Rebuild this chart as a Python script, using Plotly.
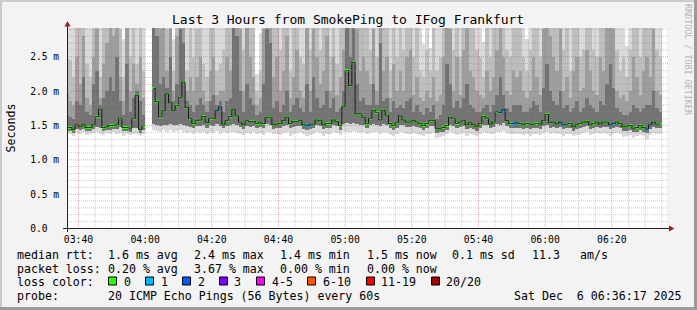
import plotly.graph_objects as go
import pandas as pd

# ---------------- data ----------------
START = "2025-12-06 03:36:00"   # first 60 s step
STEP_S = 60

# median rtt per step (ms); None = no data
median = [
1.47,1.47,1.44,1.51,1.48,1.51,1.47,1.47,1.51,1.63,
1.74,1.47,1.48,1.50,1.50,1.51,1.60,1.47,1.47,1.46,
1.60,1.94,1.44,1.48,None,None,2.04,1.85,1.63,1.72,
1.96,1.83,1.72,1.79,1.91,2.13,1.76,1.60,1.53,1.57,
1.58,1.63,1.54,1.60,1.60,1.72,1.77,1.52,1.57,1.63,
1.73,1.64,1.55,1.51,1.57,1.56,1.56,1.53,1.55,1.53,
1.62,1.62,1.51,1.52,1.53,1.57,1.62,1.53,1.56,1.56,
1.57,1.51,1.50,1.51,1.52,1.58,1.57,1.51,1.53,1.53,
1.58,1.56,1.50,1.78,2.30,2.08,2.42,1.67,1.67,1.62,
1.53,1.60,1.72,1.69,1.58,1.72,1.65,1.53,1.50,1.54,
1.64,1.58,1.55,1.55,1.57,1.55,1.53,1.50,1.53,1.57,
1.57,1.45,1.46,1.47,1.50,1.62,1.60,1.53,1.55,1.57,
1.51,1.54,1.51,1.48,1.53,1.63,1.60,1.52,1.55,1.70,
1.69,1.73,1.57,1.53,1.53,1.54,1.53,1.51,1.53,1.52,
1.52,1.53,1.52,1.57,1.66,1.54,1.55,1.52,1.55,1.51,
1.52,1.53,1.48,1.51,1.53,1.55,1.56,1.51,1.53,1.55,
1.52,1.55,1.55,1.51,1.53,1.55,1.53,1.48,1.48,1.50,
1.46,1.47,1.50,1.47,1.45,1.51,1.55,1.52,1.52,
]

# lost pings per step (of 20)
loss = [
0,0,0,0,0,0,0,0,0,0, 0,0,0,0,0,0,0,0,0,0,
0,0,0,0,None,None,0,0,0,0, 0,0,0,0,0,0,0,0,0,0,
0,0,0,0,0,1,1,0,0,0, 0,0,0,0,0,0,0,0,0,0,
0,0,0,0,0,0,0,0,0,0, 0,0,1,1,0,0,0,0,0,0,
0,0,0,0,0,0,0,0,0,0, 0,0,0,0,0,0,0,0,0,0,
0,0,0,0,0,0,0,0,0,0, 0,0,0,0,0,0,0,0,0,0,
0,0,0,0,0,0,0,0,0,0, 1,1,0,0,1,1,0,0,0,0,
0,0,0,0,0,0,0,0,1,1, 0,0,0,0,0,0,0,0,0,0,
0,0,0,1,1,0,0,0,0,0, 0,0,0,0,1,1,0,0,0,
]

# smoke: ping-rtt distribution per step (ms)
lo0 = [  # fastest ping
1.37,1.38,1.35,1.39,1.37,1.40,1.36,1.38,1.39,1.40,
1.37,1.36,1.39,1.38,1.40,1.37,1.39,1.34,1.37,1.36,
1.38,1.37,1.34,1.38,None,None,1.44,1.42,1.40,1.43,
1.41,1.44,1.40,1.42,1.43,1.41,1.39,1.40,1.38,1.40,
1.39,1.41,1.37,1.40,1.39,1.42,1.38,1.40,1.39,1.41,
1.40,1.39,1.37,1.36,1.39,1.38,1.40,1.37,1.39,1.36,
1.41,1.40,1.37,1.38,1.36,1.39,1.40,1.35,1.38,1.39,
1.40,1.37,1.34,1.36,1.38,1.40,1.39,1.35,1.37,1.38,
1.40,1.39,1.36,1.42,1.41,1.40,1.42,1.41,1.39,1.40,
1.37,1.39,1.41,1.40,1.38,1.40,1.39,1.36,1.34,1.37,
1.40,1.39,1.37,1.38,1.39,1.37,1.36,1.34,1.37,1.38,
1.39,1.32,1.33,1.35,1.37,1.40,1.39,1.36,1.38,1.39,
1.35,1.37,1.36,1.34,1.37,1.40,1.39,1.37,1.38,1.41,
1.40,1.42,1.39,1.37,1.38,1.37,1.38,1.36,1.37,1.35,
1.37,1.38,1.36,1.39,1.41,1.38,1.39,1.37,1.38,1.35,
1.37,1.38,1.34,1.36,1.37,1.39,1.40,1.36,1.37,1.39,
1.37,1.39,1.38,1.35,1.37,1.39,1.37,1.33,1.34,1.36,
1.32,1.34,1.36,1.34,1.31,1.36,1.39,1.37,1.38,
]
lo25 = [  # lower quartile ping
1.42,1.42,1.39,1.45,1.43,1.45,1.42,1.42,1.45,1.48,
1.47,1.42,1.43,1.44,1.45,1.45,1.48,1.42,1.42,1.41,
1.47,1.46,1.39,1.43,None,None,1.52,1.50,1.49,1.51,
1.50,1.52,1.50,1.51,1.52,1.50,1.49,1.48,1.46,1.49,
1.49,1.51,1.47,1.50,1.49,1.52,1.49,1.46,1.49,1.51,
1.52,1.50,1.48,1.45,1.49,1.48,1.49,1.46,1.48,1.46,
1.52,1.51,1.45,1.46,1.46,1.49,1.51,1.46,1.48,1.49,
1.49,1.45,1.44,1.45,1.46,1.50,1.49,1.45,1.46,1.47,
1.50,1.49,1.44,1.52,1.53,1.52,1.54,1.52,1.51,1.50,
1.47,1.50,1.52,1.51,1.49,1.52,1.50,1.47,1.44,1.47,
1.51,1.50,1.48,1.48,1.49,1.48,1.46,1.44,1.46,1.49,
1.49,1.39,1.40,1.41,1.44,1.50,1.49,1.46,1.48,1.49,
1.45,1.47,1.45,1.42,1.46,1.51,1.50,1.46,1.48,1.52,
1.51,1.53,1.49,1.46,1.47,1.47,1.46,1.45,1.46,1.45,
1.46,1.46,1.45,1.49,1.51,1.47,1.48,1.46,1.48,1.45,
1.46,1.46,1.42,1.45,1.46,1.48,1.49,1.45,1.46,1.48,
1.46,1.48,1.48,1.45,1.46,1.48,1.46,1.42,1.42,1.44,
1.40,1.41,1.44,1.41,1.39,1.45,1.48,1.46,1.46,
]
hi60 = [
1.65,1.62,1.60,1.85,1.80,2.20,1.70,1.65,2.10,2.30,
1.80,1.90,2.00,2.20,2.00,2.50,1.85,1.65,2.40,1.70,
1.90,2.00,1.85,1.65,None,None,3.00,2.80,2.10,2.20,
2.05,2.50,1.85,2.10,2.90,2.70,1.85,1.80,1.70,1.80,
1.90,1.80,1.70,1.85,1.95,1.80,1.85,1.70,1.85,1.90,
3.00,2.80,2.00,1.70,2.10,1.90,1.80,1.65,1.70,2.10,
2.90,2.70,1.75,1.85,1.70,1.80,2.00,1.70,1.80,1.90,
1.75,1.70,2.10,1.70,2.20,1.90,1.75,1.80,2.00,1.75,
1.90,1.70,1.75,2.00,3.00,2.50,3.00,2.10,1.85,1.90,
1.80,1.80,2.10,1.80,2.70,1.85,1.90,1.70,1.85,1.75,
1.80,1.75,1.85,1.90,1.70,1.80,1.70,1.65,1.75,1.70,
1.80,1.60,1.65,1.80,2.40,2.10,1.75,1.85,1.75,1.90,
2.10,1.80,1.75,1.70,1.70,1.75,1.80,1.70,1.80,1.95,
2.20,1.95,1.75,1.70,1.80,1.80,1.80,1.70,1.70,1.75,
1.85,1.80,1.70,2.05,2.40,2.00,1.85,1.80,2.00,1.75,
1.80,1.70,1.75,1.85,1.70,1.75,1.90,1.80,1.75,1.70,
1.85,1.80,2.10,2.40,2.05,1.75,1.70,1.65,1.65,1.70,
1.80,1.75,1.70,1.75,1.80,1.80,2.00,1.75,1.70,
]
hi75 = [
1.98,1.85,1.80,2.50,2.10,2.80,1.90,1.80,2.50,2.90,
1.90,2.40,2.70,3.00,2.80,3.00,2.20,1.85,3.00,2.00,
2.40,2.10,2.50,1.90,None,None,3.00,3.00,2.90,3.00,
2.30,3.00,2.00,2.80,3.00,3.00,2.00,2.20,2.00,2.20,
2.50,2.00,1.85,2.30,2.50,1.95,2.00,2.00,2.50,2.30,
3.00,3.00,2.90,2.00,3.00,2.50,2.20,1.80,1.90,2.90,
3.00,3.00,2.20,2.50,2.00,2.30,2.80,1.90,2.20,2.60,
2.00,1.90,3.00,2.00,2.90,2.50,2.10,2.30,2.80,2.00,
2.50,1.95,2.20,2.60,3.00,3.00,3.00,2.90,2.30,2.50,
2.30,2.10,2.90,2.00,3.00,2.30,2.50,1.90,2.40,2.00,
2.30,2.00,2.50,2.60,1.95,2.20,1.90,1.85,2.00,1.90,
2.20,1.85,1.95,2.50,3.00,2.90,2.00,2.50,1.95,2.60,
3.00,2.30,2.20,2.00,1.95,1.90,2.30,2.00,2.20,2.60,
3.00,2.50,2.00,1.95,2.30,2.20,2.30,2.00,1.90,2.00,
2.50,2.20,1.95,2.90,3.00,2.80,2.50,2.30,2.90,2.00,
2.20,1.90,2.30,2.50,2.00,2.05,2.60,2.30,2.00,1.95,
2.50,2.30,3.00,3.00,2.90,2.00,1.90,1.95,1.85,2.00,
2.50,2.20,1.95,2.30,2.50,2.20,2.90,2.00,1.95,
]
hi90 = [
2.47,2.45,2.20,3.00,3.00,3.00,2.40,2.20,3.00,3.00,
2.20,3.00,3.00,3.00,3.00,3.00,2.90,2.20,3.00,2.50,
3.00,2.40,3.00,2.30,None,None,3.00,3.00,3.00,3.00,
2.90,3.00,2.30,3.00,3.00,3.00,2.30,3.00,2.50,2.90,
3.00,2.40,2.20,3.00,3.00,2.30,2.40,2.60,3.00,3.00,
3.00,3.00,3.00,2.60,3.00,3.00,3.00,2.00,2.30,3.00,
3.00,3.00,3.00,3.00,2.60,3.00,3.00,2.30,3.00,3.00,
2.50,2.40,3.00,2.60,3.00,3.00,2.60,3.00,3.00,2.50,
3.00,2.40,3.00,3.00,3.00,3.00,3.00,3.00,3.00,3.00,
3.00,2.60,3.00,2.50,3.00,3.00,3.00,2.30,3.00,2.50,
3.00,2.60,3.00,3.00,2.50,3.00,2.30,2.20,2.60,2.30,
3.00,2.30,2.50,3.00,3.00,3.00,2.60,3.00,2.50,3.00,
3.00,3.00,3.00,2.60,2.50,2.20,3.00,2.50,3.00,3.00,
3.00,3.00,2.60,2.50,3.00,3.00,3.00,2.50,2.30,2.60,
3.00,3.00,2.50,3.00,3.00,3.00,3.00,3.00,3.00,2.60,
3.00,2.30,3.00,3.00,2.50,2.60,3.00,3.00,2.60,2.50,
3.00,3.00,3.00,3.00,3.00,2.60,2.30,2.50,2.20,2.60,
3.00,3.00,2.50,3.00,3.00,3.00,3.00,2.60,2.50,
]
hi100 = [  # slowest ping
3.00,3.00,3.00,3.00,3.00,3.00,3.00,3.00,3.00,3.00,
3.00,3.00,3.00,3.00,3.00,3.00,3.00,2.76,3.00,3.00,
3.00,3.00,3.00,3.00,None,None,3.00,3.00,3.00,3.00,
3.00,3.00,2.76,3.00,3.00,3.00,3.00,3.00,3.00,3.00,
3.00,3.00,3.00,3.00,3.00,3.00,3.00,3.00,3.00,3.00,
3.00,3.00,3.00,3.00,3.00,3.00,3.00,2.25,2.85,3.00,
3.00,3.00,3.00,3.00,3.00,3.00,3.00,3.00,3.00,3.00,
3.00,3.00,3.00,3.00,3.00,3.00,3.00,3.00,3.00,3.00,
3.00,3.00,3.00,3.00,3.00,3.00,3.00,3.00,3.00,3.00,
3.00,3.00,3.00,3.00,3.00,3.00,3.00,3.00,3.00,3.00,
3.00,3.00,3.00,3.00,3.00,3.00,3.00,2.68,3.00,2.63,
3.00,3.00,3.00,3.00,3.00,3.00,3.00,3.00,3.00,3.00,
3.00,3.00,3.00,3.00,3.00,2.71,3.00,3.00,3.00,3.00,
3.00,3.00,3.00,3.00,3.00,3.00,3.00,3.00,2.76,3.00,
3.00,3.00,3.00,3.00,3.00,3.00,3.00,3.00,3.00,3.00,
3.00,3.00,3.00,3.00,3.00,3.00,3.00,3.00,3.00,3.00,
3.00,3.00,3.00,3.00,3.00,3.00,3.00,3.00,2.66,3.00,
3.00,3.00,3.00,3.00,3.00,3.00,3.00,3.00,3.00,
]

y_tick_vals = [0.0, 0.5, 1.0, 1.5, 2.0, 2.5]
y_tick_text = ["0.0\u00a0\u00a0", "0.5 m", "1.0 m", "1.5 m", "2.0 m", "2.5 m"]

loss_legend = ["0", "1", "2", "3", "4-5", "6-10", "11-19", "20/20"]
loss_colors = ["#26ff00", "#00b8ff", "#0059ff", "#7e00ff", "#ff00ff",
               "#ff5500", "#ff0000", "#a10000"]

stats_rtt = ["1.6 ms avg", "2.4 ms max", "1.4 ms min", "1.5 ms now", "0.1 ms sd", "11.3", "am/s"]
stats_loss = ["0.20 % avg", "3.67 % max", "0.00 % min", "0.00 % now"]
probe_text = "20 ICMP Echo Pings (56 Bytes) every 60s"
date_text = "Sat Dec \u00a06 06:36:17 2025"
title_text = "Last 3 Hours from SmokePing to IFog Frankfurt"

# ---------------- geometry helpers ----------------
W, H = 697, 310
PL, PR, PT, PB = 67, 667, 28, 229
def px(x):  # pixel -> paper x
    return (x - PL) / (PR - PL)
def py(y):  # pixel -> paper y
    return (PB - y) / (PB - PT)

MS_PER_PX = 68.68
y_lo = -0.5 / MS_PER_PX
y_hi = y_lo + (PB - PT) / MS_PER_PX
x_lo = pd.Timestamp("2025-12-06 03:36:33")
x_hi = x_lo + pd.Timedelta(hours=3)

n = len(median)
t0 = pd.Timestamp(START)
times = [t0 + pd.Timedelta(seconds=STEP_S * i + STEP_S / 2) for i in range(n)]

def band(lo, hi):
    base, ht = [], []
    for a, b in zip(lo, hi):
        if a is None or b is None:
            base.append(None); ht.append(None)
        else:
            base.append(a); ht.append(max(b - a, 0))
    return base, ht

MONO = "DejaVu Sans Mono"
fig = go.Figure()
layers = [(lo0, hi100, "#dadada"), (lo25, hi90, "#bebebe"),
          (lo25, hi75, "#9e9e9e"), (lo25, hi60, "#737373")]
for lo, hi, col in layers:
    b, h = band(lo, hi)
    fig.add_trace(go.Bar(x=times, y=h, base=b, width=STEP_S * 1000,
                         marker=dict(color=col, line=dict(width=0)),
                         showlegend=False, hoverinfo="skip"))

# median connector line
fig.add_trace(go.Scatter(x=times, y=median, mode="lines", line_shape="hvh",
                         line=dict(color="#1a1a1a", width=1),
                         connectgaps=False, showlegend=False, hoverinfo="skip"))

# median markers coloured by loss
def loss_color(l):
    if l is None:
        return "rgba(0,0,0,0)"
    if l <= 3:
        return loss_colors[l]
    if l <= 5:
        return loss_colors[4]
    if l <= 10:
        return loss_colors[5]
    if l <= 19:
        return loss_colors[6]
    return loss_colors[7]

BOX = 2.2 / MS_PER_PX
mb = [None if m is None else m - BOX / 2 for m in median]
mh = [None if m is None else BOX for m in median]
fig.add_trace(go.Bar(x=times, y=mh, base=mb, width=STEP_S * 1000,
                     marker=dict(color=[loss_color(l) for l in loss], line=dict(width=0)),
                     showlegend=False, hoverinfo="skip"))

shapes = []
# grid (drawn over the smoke, like rrdtool)
MINOR = "rgba(140,140,140,0.45)"
MAJOR = "rgba(220,60,60,0.45)"
gt = pd.Timestamp("2025-12-06 03:40:00")
while gt < x_hi:
    major = (gt.minute % 20 == 0)
    shapes.append(dict(type="line", xref="x", yref="paper", x0=gt, x1=gt, y0=0, y1=1,
                       line=dict(color=MAJOR if major else MINOR, width=1, dash="1px,1px"),
                       layer="above"))
    gt += pd.Timedelta(minutes=5)
for k in range(1, 30):
    v = k / 10
    if v > y_hi:
        break
    major = (k % 5 == 0)
    shapes.append(dict(type="line", xref="paper", yref="y", x0=0, x1=px(668), y0=v, y1=v,
                       line=dict(color=MAJOR if major else MINOR, width=1, dash="1px,1px"),
                       layer="above"))
# axes + arrows
AX = "#202020"
ARW = "#a01e1e"
shapes.append(dict(type="line", xref="paper", yref="paper", x0=px(63), x1=px(670),
                   y0=py(228.5), y1=py(228.5), line=dict(color=AX, width=1), layer="above"))
shapes.append(dict(type="line", xref="paper", yref="paper", x0=px(67.5), x1=px(67.5),
                   y0=py(232), y1=py(25), line=dict(color=AX, width=1), layer="above"))
shapes.append(dict(type="path", xref="paper", yref="paper",
                   path=f"M {px(669)} {py(225.5)} L {px(674.5)} {py(228.5)} L {px(669)} {py(231.5)} Z",
                   fillcolor=ARW, line=dict(width=0), layer="above"))
shapes.append(dict(type="path", xref="paper", yref="paper",
                   path=f"M {px(64.5)} {py(26.5)} L {px(67.5)} {py(21)} L {px(70.5)} {py(26.5)} Z",
                   fillcolor=ARW, line=dict(width=0), layer="above"))
# frame of the image (3D border)
shapes.append(dict(type="rect", xref="paper", yref="paper", x0=px(0), x1=px(697),
                   y0=py(0), y1=py(2), fillcolor="#cbcbcb", line=dict(width=0), layer="above"))
shapes.append(dict(type="rect", xref="paper", yref="paper", x0=px(0), x1=px(2),
                   y0=py(0), y1=py(310), fillcolor="#cbcbcb", line=dict(width=0), layer="above"))
shapes.append(dict(type="rect", xref="paper", yref="paper", x0=px(0), x1=px(697),
                   y0=py(307), y1=py(310), fillcolor="#9a9a9a", line=dict(width=0), layer="above"))
shapes.append(dict(type="rect", xref="paper", yref="paper", x0=px(694), x1=px(697),
                   y0=py(0), y1=py(310), fillcolor="#9a9a9a", line=dict(width=0), layer="above"))

# legend colour boxes
box_x = [108, 145, 182, 219, 256, 307, 366, 431]
lab_x = [122.5, 160, 196.5, 233, 270.5, 321.5, 380, 445]
for bx, c in zip(box_x, loss_colors):
    shapes.append(dict(type="rect", xref="paper", yref="paper", x0=px(bx + 0.5), x1=px(bx + 8.5),
                       y0=py(277), y1=py(285), fillcolor=c,
                       line=dict(color="#000000", width=1), layer="above"))

ann = []
def text(s, x, y, size=11.6, anchor="left", color="#000000", angle=0):
    ann.append(dict(text=s, x=px(x), y=py(y), xref="paper", yref="paper",
                    xanchor=anchor, yanchor="middle", showarrow=False, borderpad=0,
                    textangle=angle, font=dict(family=MONO, size=size, color=color)))

text(title_text, 348, 19, size=13, anchor="center")
text("Seconds", 10.5, 128, size=11.6, anchor="center", angle=-90)
text("RRDTOOL / TOBI OETIKER", 688, 60, size=8.4, anchor="center", color="#b4b4b4", angle=90)

text("median rtt:", 16, 254.5)
for s, x in zip(stats_rtt, [107, 193, 279, 366, 451, 531, 579]):
    text(s.replace(" ", "\u00a0"), x, 254.5)
text("packet loss:", 16, 268.5)
for s, x in zip(stats_loss, [107, 193, 279, 366]):
    text(s.replace(" ", "\u00a0"), x, 268.5)
text("loss color:", 16, 282)
for s, x in zip(loss_legend, lab_x):
    text(s, x, 281.5)
text("probe:", 16, 296)
text(probe_text.replace(" ", "\u00a0"), 107, 296)
text(date_text.replace(" ", "\u00a0"), 513, 296)

fig.update_layout(
    width=W, height=H,
    margin=dict(l=PL, r=W - PR, t=PT, b=H - PB, pad=0),
    paper_bgcolor="#f3f3f3", plot_bgcolor="#ffffff",
    barmode="overlay", bargap=0, showlegend=False,
    shapes=shapes, annotations=ann,
    xaxis=dict(type="date", range=[x_lo, x_hi], showgrid=False, zeroline=False,
               showline=False, tickformat="%H:%M", dtick=20 * 60 * 1000,
               tick0="2025-12-06 03:40:00", ticks="outside", ticklen=1,
               tickcolor="rgba(0,0,0,0)",
               tickfont=dict(family=MONO, size=9.8, color="#000000"), fixedrange=True),
    yaxis=dict(range=[y_lo, y_hi], showgrid=False, zeroline=False, showline=False,
               tickvals=y_tick_vals, ticktext=y_tick_text, ticks="outside", ticklen=5,
               tickcolor="rgba(0,0,0,0)",
               tickfont=dict(family=MONO, size=9.6, color="#000000"), fixedrange=True),
)

fig.write_html("out.html", config={"displayModeBar": False})
